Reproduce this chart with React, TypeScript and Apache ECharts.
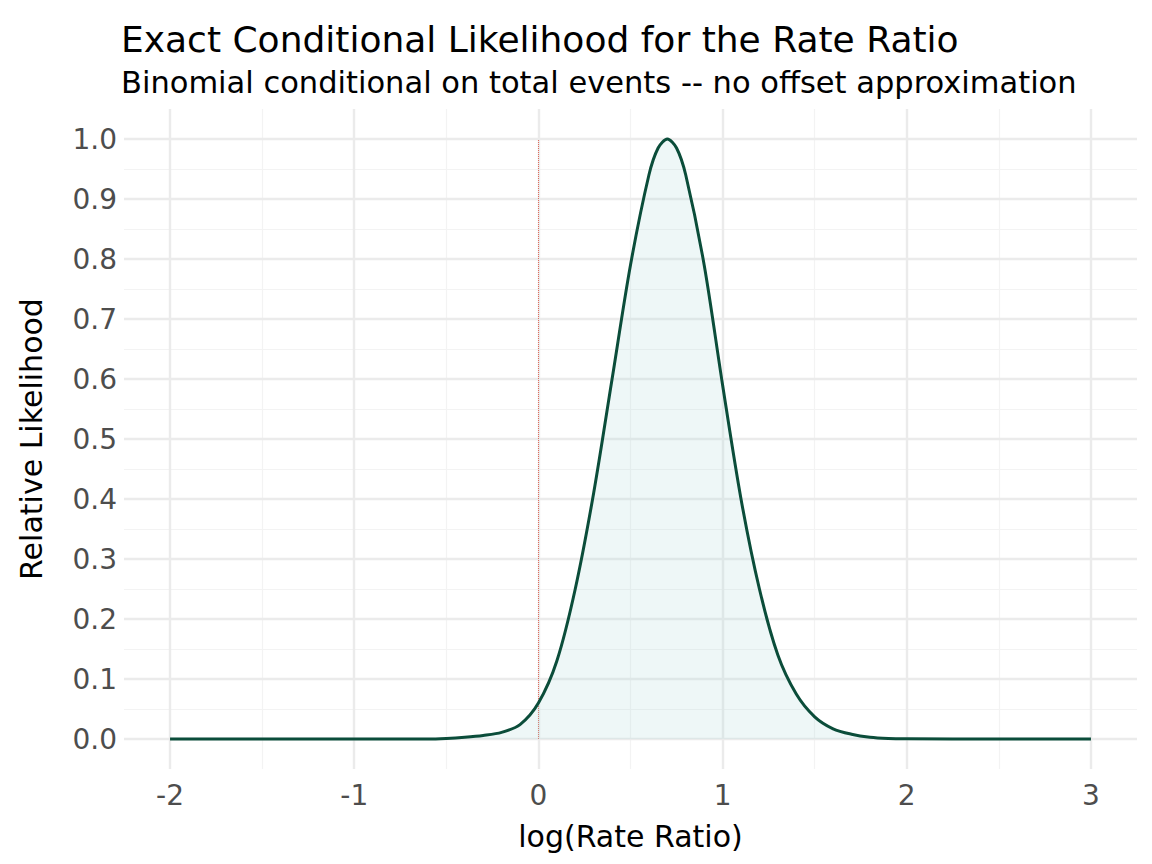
import { useEffect, useRef } from "react";
import * as echarts from "echarts";

const logRR = [
  -2.0, -1.5, -1.0, -0.6, -0.5, -0.4, -0.3, -0.2, -0.1, 0.0, 0.1, 0.2, 0.3, 0.4, 0.5, 0.6, 0.65,
  0.7, 0.75, 0.8, 0.9, 1.0, 1.1, 1.2, 1.3, 1.4, 1.5, 1.6, 1.7, 1.8, 1.9, 2.0, 2.5, 3.0,
];
const likelihood = [
  0, 0, 0, 0, 0.001, 0.003, 0.006, 0.011, 0.024, 0.06, 0.13, 0.25, 0.41, 0.6, 0.79, 0.94, 0.985,
  1.0, 0.985, 0.94, 0.79, 0.59, 0.4, 0.25, 0.14, 0.075, 0.037, 0.017, 0.008, 0.003, 0.001, 0.0005, 0,
  0,
];
const xMajor = [-2, -1, 0, 1, 2, 3];
const xMinor = [-1.5, -0.5, 0.5, 1.5, 2.5];
const yMajor = [0, 0.1, 0.2, 0.3, 0.4, 0.5, 0.6, 0.7, 0.8, 0.9, 1.0];
const yMinor = [0.05, 0.15, 0.25, 0.35, 0.45, 0.55, 0.65, 0.75, 0.85, 0.95];
const nullValue = 0;

const FONT = "DejaVu Sans";

export default function App() {
  const ref = useRef<HTMLDivElement>(null);

  useEffect(() => {
    if (!ref.current) return;
    const chart = echarts.init(ref.current, null, { renderer: "svg" });
    const gridLines = (vals: number[], axis: "xAxis" | "yAxis", color: string, width: number) =>
      vals.map((v) => ({ [axis]: v, lineStyle: { color, width, type: "solid" } }));

    chart.setOption({
      animation: false,
      textStyle: { fontFamily: FONT },
      title: {
        text: "Exact Conditional Likelihood for the Rate Ratio",
        subtext: "Binomial conditional on total events -- no offset approximation",
        left: 108,
        top: 8,
        itemGap: 10,
        textStyle: { fontFamily: FONT, fontSize: 36, fontWeight: "normal", color: "#000" },
        subtextStyle: { fontFamily: FONT, fontSize: 30.5, color: "#000" },
      },
      grid: { left: 110, right: 7, top: 101, bottom: 65 },
      xAxis: {
        type: "value",
        min: -2.25,
        max: 3.25,
        name: "log(Rate Ratio)",
        nameLocation: "middle",
        nameGap: 52,
        nameTextStyle: { fontSize: 30, color: "#000" },
        axisLine: { show: false },
        axisTick: { show: false },
        splitLine: { show: false },
        axisLabel: {
          customValues: xMajor,
          fontSize: 28,
          color: "#4d4d4d",
          margin: 12,
          formatter: (v: number) => String(v),
        },
      },
      yAxis: {
        type: "value",
        min: -0.05,
        max: 1.05,
        name: "Relative Likelihood",
        nameLocation: "middle",
        nameGap: 78,
        nameTextStyle: { fontSize: 30, color: "#000" },
        axisLine: { show: false },
        axisTick: { show: false },
        splitLine: { show: false },
        axisLabel: {
          customValues: yMajor,
          fontSize: 28,
          color: "#4d4d4d",
          margin: 7,
          formatter: (v: number) => v.toFixed(1),
        },
      },
      series: [
        {
          type: "line",
          data: [],
          silent: true,
          markLine: {
            symbol: "none",
            silent: true,
            label: { show: false },
            data: [
              ...gridLines(xMinor, "xAxis", "#f3f3f3", 1.2),
              ...gridLines(yMinor, "yAxis", "#f3f3f3", 1.2),
              ...gridLines(xMajor, "xAxis", "#ebebeb", 2.4),
              ...gridLines(yMajor, "yAxis", "#ebebeb", 2.4),
            ],
          },
        },
        {
          type: "line",
          data: [],
          silent: true,
          markLine: {
            symbol: "none",
            silent: true,
            label: { show: false },
            data: [
              [
                { coord: [nullValue, 0], lineStyle: { color: "#e06a5a", width: 1, type: [1, 1] } },
                { coord: [nullValue, 1] },
              ],
            ],
          },
        },
        {
          type: "line",
          data: logRR.map((x, i) => [x, likelihood[i]]),
          smooth: 0.3,
          showSymbol: false,
          lineStyle: { color: "#0b4d3a", width: 3 },
          areaStyle: { color: "rgba(170,215,215,0.28)" },
          z: 5,
        },
      ],
    });
    return () => chart.dispose();
  }, []);

  return <div ref={ref} style={{ width: 1136, height: 848 }} />;
}
